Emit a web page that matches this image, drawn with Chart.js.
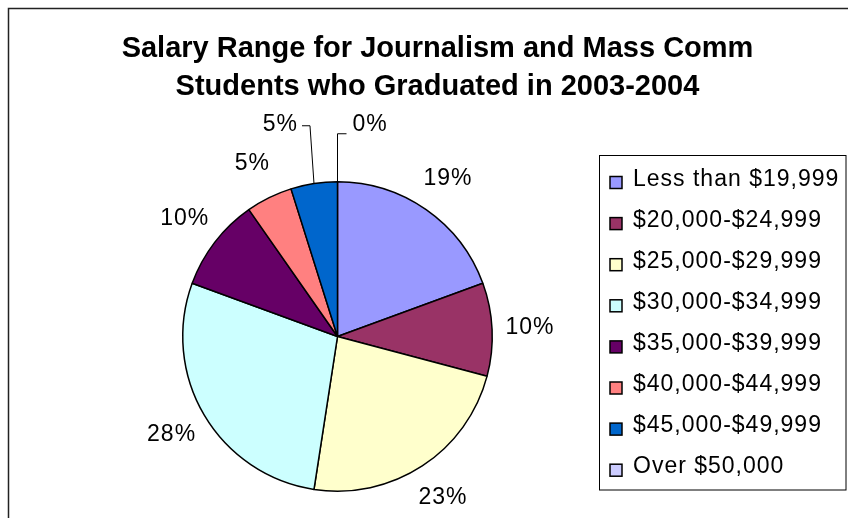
<!DOCTYPE html>
<html>
<head>
<meta charset="utf-8">
<script src="https://cdn.jsdelivr.net/npm/chart.js@4.4.1/dist/chart.umd.min.js"></script>
<style>
    body { margin: 0; background: #fff; }
    canvas { display: block; }
</style>
</head>
<body>
<canvas id="chart" width="848" height="518"></canvas>
<script>
// Rangos de salario (categorias)
let salaryRanges = [
    'Less than $19,999',
    '$20,000-$24,999',
    '$25,000-$29,999',
    '$30,000-$34,999',
    '$35,000-$39,999',
    '$40,000-$44,999',
    '$45,000-$49,999',
    'Over $50,000'
]

// Numero de graduados por rango
let graduates = [20, 10, 24, 29, 10, 5, 5, 0]

let sliceColors = ['#9999FF', '#993366', '#FFFFCC', '#CCFFFF', '#660066', '#FF8080', '#0066CC', '#CCCCFF']

let titleLines = [
    'Salary Range for Journalism and Mass Comm',
    'Students who Graduated in 2003-2004'
]

const FONT = "'Liberation Sans', Arial, sans-serif"

function setText(ctx, font, spacing){
    ctx.font = font
    if ('letterSpacing' in ctx) ctx.letterSpacing = spacing
}

// marco, titulo y leyenda dibujados a mano
let framePlugin = {
    id: 'frame',
    beforeDraw(chart){
        let ctx = chart.ctx
        ctx.save()
        ctx.fillStyle = '#fff'
        ctx.fillRect(0, 0, chart.width, chart.height)
        ctx.strokeStyle = '#222'
        ctx.lineWidth = 1.5
        ctx.strokeRect(8.5, 8.5, chart.width + 20, chart.height + 20)
        ctx.restore()
    },
    afterDraw(chart){
        let ctx = chart.ctx
        ctx.save()
        ctx.fillStyle = '#000'
        ctx.textAlign = 'center'
        ctx.textBaseline = 'alphabetic'
        setText(ctx, 'bold 29px ' + FONT, '0px')
        ctx.fillText(titleLines[0], 437.5, 56.5)
        ctx.fillText(titleLines[1], 437.5, 94.5)

        // leyenda
        ctx.strokeStyle = '#000'
        ctx.lineWidth = 1
        ctx.strokeRect(599.5, 155.5, 246.5, 334.5)
        setText(ctx, '23px ' + FONT, '1px')
        ctx.textAlign = 'left'
        chart.data.labels.forEach((lab, i) => {
            let base = 185.5 + i * 41.1
            ctx.fillStyle = chart.data.datasets[0].backgroundColor[i]
            ctx.fillRect(610, base - 9, 12, 12)
            ctx.lineWidth = 1.5
            ctx.strokeRect(610, base - 9, 12, 12)
            ctx.fillStyle = '#000'
            ctx.fillText(lab, 633, base)
        })
        ctx.restore()
    }
}

// etiquetas de porcentaje alrededor del pastel
let pctPlugin = {
    id: 'pct',
    afterDatasetsDraw(chart){
        let ctx = chart.ctx
        let meta = chart.getDatasetMeta(0)
        let data = chart.data.datasets[0].data
        let total = data.reduce((a, b) => a + b, 0)
        ctx.save()
        setText(ctx, '23px ' + FONT, '1px')
        ctx.fillStyle = '#000'
        ctx.strokeStyle = '#000'
        ctx.lineWidth = 1
        ctx.textBaseline = 'middle'
        meta.data.forEach((arc, i) => {
            let p = arc.getProps(['x', 'y', 'startAngle', 'endAngle', 'outerRadius'], true)
            let a = (p.startAngle + p.endAngle) / 2
            let ux = Math.cos(a), uy = Math.sin(a)
            let text = Math.round(data[i] / total * 100) + '%'
            // distancia angular respecto a la parte superior
            let d = Math.atan2(Math.sin(a + Math.PI / 2), Math.cos(a + Math.PI / 2))
            if (Math.abs(d) < 0.35){
                let px = p.x + p.outerRadius * ux
                let py = p.y + p.outerRadius * uy
                let ty = p.y - p.outerRadius - 57
                let left = d < -0.01
                let ex = left ? px - 4 : px
                let ey = left ? ty + 1 : ty + 9
                ctx.beginPath()
                ctx.moveTo(px, py)
                ctx.lineTo(ex, ey)
                ctx.lineTo(left ? ex - 8 : ex + 9, ey)
                ctx.stroke()
                ctx.textAlign = left ? 'right' : 'left'
                ctx.fillText(text, left ? ex - 12 : ex + 15, ty)
            } else {
                let R = p.outerRadius + 38
                ctx.textAlign = 'center'
                ctx.fillText(text, p.x + R * ux, p.y + R * uy)
            }
        })
        ctx.restore()
    }
}

new Chart(document.getElementById('chart'), {
    type: 'pie',
    data: {
        labels: salaryRanges,
        datasets: [{
            data: graduates,
            backgroundColor: sliceColors,
            borderColor: '#000',
            borderWidth: 1.5
        }]
    },
    options: {
        responsive: false,
        animation: false,
        layout: {
            padding: { left: 182, right: 355, top: 181, bottom: 26 }
        },
        plugins: {
            legend: { display: false },
            title: { display: false },
            tooltip: { enabled: false }
        }
    },
    plugins: [framePlugin, pctPlugin]
})
</script>
</body>
</html>
